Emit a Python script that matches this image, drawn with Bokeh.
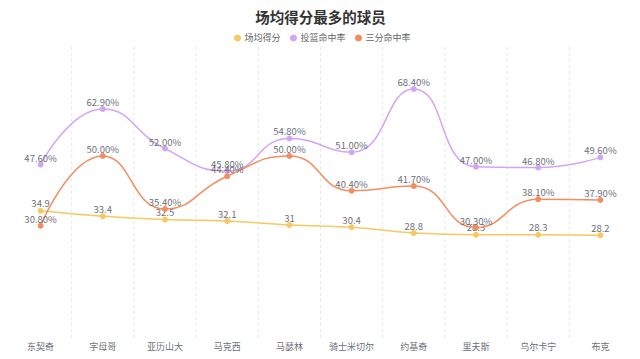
from bokeh.plotting import figure
from bokeh.models import Legend, LegendItem, ColumnDataSource
from bokeh.core.properties import value
from bokeh.embed import file_html
from bokeh.resources import INLINE

players = ["东契奇", "字母哥", "亚历山大", "马克西", "马瑟林", "骑士米切尔", "约基奇", "里夫斯", "乌尔卡宁", "布克"]
points = [34.9, 33.4, 32.5, 32.1, 31, 30.4, 28.8, 28.3, 28.3, 28.2]
fg_pct = [47.6, 62.9, 52.0, 45.8, 54.8, 51.0, 68.4, 47.0, 46.8, 49.6]
three_pct = [30.8, 50.0, 35.4, 44.4, 50.0, 40.4, 41.7, 30.3, 38.1, 37.9]

series_names = ["场均得分", "投篮命中率", "三分命中率"]
colors = ["#f6c85f", "#d4a4f4", "#f58c5e"]
FONT = "Noto Sans CJK SC"

W, H = 640, 358
LEFT = RIGHT = 9
TOP = 26
Y_MAX = 80          # top of the value axis
Y_TOP = 84.75       # extra room above for the legend
Y_BOT = -5.7        # room below for category labels
p = figure(width=W, height=H, output_backend="svg", toolbar_location=None,
           x_range=(-0.5, len(players) - 0.5), y_range=(Y_BOT, Y_TOP),
           min_border_left=LEFT, min_border_right=RIGHT, min_border_top=TOP, min_border_bottom=0)
p.outline_line_color = None
p.background_fill_color = "white"
p.border_fill_color = "white"

p.title.text = "场均得分最多的球员"
p.title.align = "center"
p.title.text_font = FONT
p.title.text_font_size = "14.5px"
p.title.text_font_style = "bold"
p.title.text_color = "#333333"
p.title.standoff = 6
p.title.offset = 0

p.xaxis.visible = False
p.yaxis.visible = False
p.ygrid.visible = False
p.xgrid.visible = False

xs = list(range(len(players)))

# dashed split lines between categories
bounds = [i + 0.5 for i in range(len(players) - 1)]
p.segment(x0=bounds, y0=[0] * len(bounds), x1=bounds, y1=[Y_MAX] * len(bounds),
          line_color="#e6e6e6", line_dash="3 3", line_width=1)

# category labels
p.text(x=xs, y=[0] * len(xs), text=players, text_font=value(FONT), text_font_size="9px",
       text_color="#6e7079", text_align="center", text_baseline="middle", y_offset=9)

# pixel scales (for echarts-like smoothing)
frame_w = W - LEFT - RIGHT
frame_h = H - TOP
sx = frame_w / len(players)
sy = frame_h / (Y_TOP - Y_BOT)


def smooth_beziers(xv, yv, smooth=0.5):
    P = [(x * sx, y * sy) for x, y in zip(xv, yv)]
    n = len(P)
    segs = []
    cp0 = P[0]
    for i in range(1, n):
        x, y = P[i]
        px, py = P[i - 1]
        if i == n - 1:
            cp1 = (x, y)
            nxt = None
        else:
            nx, ny = P[i + 1]
            vx, vy = nx - px, ny - py
            lp = ((x - px) ** 2 + (y - py) ** 2) ** 0.5
            ln = ((nx - x) ** 2 + (ny - y) ** 2) ** 0.5
            r = ln / (ln + lp)
            ncx = x + vx * smooth * r
            ncy = y + vy * smooth * r
            ncx = max(min(ncx, max(nx, x)), min(nx, x))
            ncy = max(min(ncy, max(ny, y)), min(ny, y))
            vx, vy = ncx - x, ncy - y
            c1x = x - vx * lp / ln
            c1y = y - vy * lp / ln
            c1x = max(min(c1x, max(px, x)), min(px, x))
            c1y = max(min(c1y, max(py, y)), min(py, y))
            vx, vy = x - c1x, y - c1y
            ncx = x + vx * ln / lp
            ncy = y + vy * ln / lp
            cp1 = (c1x, c1y)
            nxt = (ncx, ncy)
        segs.append((px, py, x, y, cp0[0], cp0[1], cp1[0], cp1[1]))
        cp0 = nxt
    d = dict(x0=[], y0=[], x1=[], y1=[], cx0=[], cy0=[], cx1=[], cy1=[])
    for s in segs:
        d["x0"].append(s[0] / sx); d["y0"].append(s[1] / sy)
        d["x1"].append(s[2] / sx); d["y1"].append(s[3] / sy)
        d["cx0"].append(s[4] / sx); d["cy0"].append(s[5] / sy)
        d["cx1"].append(s[6] / sx); d["cy1"].append(s[7] / sy)
    return d


all_series = [points, fg_pct, three_pct]
label_texts = [
    [f"{v:g}" for v in points],
    [f"{v:.2f}%" for v in fg_pct],
    [f"{v:.2f}%" for v in three_pct],
]
items = []
for name, vals, col, labs in zip(series_names, all_series, colors, label_texts):
    bz = smooth_beziers(xs, vals)
    p.bezier(x0="x0", y0="y0", x1="x1", y1="y1", cx0="cx0", cy0="cy0", cx1="cx1", cy1="cy1",
             source=ColumnDataSource(bz), line_color=col, line_width=1.5)
    src = ColumnDataSource(dict(x=xs, y=vals, t=labs))
    r = p.scatter("x", "y", source=src, size=5, fill_color=col, line_color=col)
    p.text("x", "y", text="t", source=src, text_font=value(FONT), text_font_size="9.5px",
           text_color="#6e7079", text_align="center", text_baseline="middle", y_offset=-7)
    items.append(LegendItem(label=name, renderers=[r]))

legend = Legend(items=items, orientation="horizontal", location="top_center",
                border_line_color=None, background_fill_alpha=0,
                label_text_font=FONT, label_text_font_size="9px", label_text_color="#666666",
                glyph_width=15, glyph_height=15, label_standoff=-4, spacing=5,
                padding=0, margin=0, label_height=16)
p.add_layout(legend)

open("out.html", "w").write(file_html(p, INLINE))
